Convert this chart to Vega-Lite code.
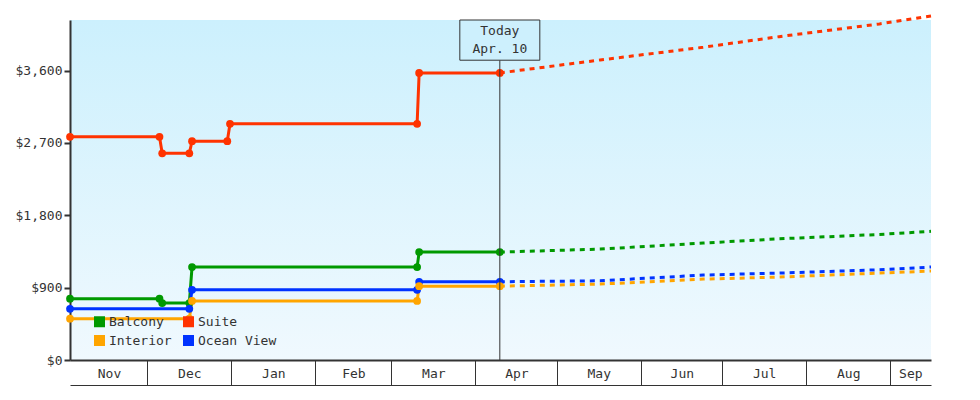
{
  "$schema": "https://vega.github.io/schema/vega-lite/v6.json",
  "width": 861,
  "height": 340,
  "autosize": "none",
  "padding": {"left": 70, "top": 20, "right": 49, "bottom": 40},
  "background": "white",
  "config": {
    "view": {
      "stroke": null,
      "fill": {"gradient": "linear", "x1": 0, "y1": 0, "x2": 0, "y2": 1, "stops": [{"offset": 0, "color": "#ccf0fd"}, {"offset": 1, "color": "#f0f9fe"}]}
    },
    "font": "DejaVu Sans Mono",
    "axis": {"labelFont": "DejaVu Sans Mono", "labelFontSize": 13, "labelColor": "#333333", "domainColor": "#333333", "tickColor": "#333333", "grid": false, "title": null},
    "axisY": {"domainWidth": 2, "tickWidth": 2, "tickSize": 6, "labelPadding": 2},
    "legend": {"symbolType": "square", "symbolSize": 121, "symbolStrokeWidth": 0, "symbolOpacity": 1,
      "labelFont": "DejaVu Sans Mono", "labelFontSize": 13, "labelColor": "#333333",
      "columnPadding": 10, "rowPadding": 5, "labelOffset": 3}
  },
  "data": {
    "values": [
      {"date": "2018-11-02T12:00:00Z", "series": "Suite", "price": 2775, "kind": "actual"},
      {"date": "2018-12-05T12:00:00Z", "series": "Suite", "price": 2775, "kind": "actual"},
      {"date": "2018-12-06T12:00:00Z", "series": "Suite", "price": 2570, "kind": "actual"},
      {"date": "2018-12-16T12:00:00Z", "series": "Suite", "price": 2570, "kind": "actual"},
      {"date": "2018-12-17T12:00:00Z", "series": "Suite", "price": 2721, "kind": "actual"},
      {"date": "2018-12-30T12:00:00Z", "series": "Suite", "price": 2721, "kind": "actual"},
      {"date": "2018-12-31T12:00:00Z", "series": "Suite", "price": 2937, "kind": "actual"},
      {"date": "2019-03-10T12:00:00Z", "series": "Suite", "price": 2937, "kind": "actual"},
      {"date": "2019-03-11T06:00:00Z", "series": "Suite", "price": 3570, "kind": "actual"},
      {"date": "2019-04-10T00:00:00Z", "series": "Suite", "price": 3570, "kind": "actual"},
      {"date": "2018-11-02T12:00:00Z", "series": "Balcony", "price": 762, "kind": "actual"},
      {"date": "2018-12-05T12:00:00Z", "series": "Balcony", "price": 762, "kind": "actual"},
      {"date": "2018-12-06T12:00:00Z", "series": "Balcony", "price": 708, "kind": "actual"},
      {"date": "2018-12-16T12:00:00Z", "series": "Balcony", "price": 708, "kind": "actual"},
      {"date": "2018-12-17T12:00:00Z", "series": "Balcony", "price": 1155, "kind": "actual"},
      {"date": "2019-03-10T12:00:00Z", "series": "Balcony", "price": 1155, "kind": "actual"},
      {"date": "2019-03-11T06:00:00Z", "series": "Balcony", "price": 1342, "kind": "actual"},
      {"date": "2019-04-10T00:00:00Z", "series": "Balcony", "price": 1342, "kind": "actual"},
      {"date": "2018-11-02T12:00:00Z", "series": "Ocean View", "price": 637, "kind": "actual"},
      {"date": "2018-12-16T12:00:00Z", "series": "Ocean View", "price": 637, "kind": "actual"},
      {"date": "2018-12-17T12:00:00Z", "series": "Ocean View", "price": 873, "kind": "actual"},
      {"date": "2019-03-10T12:00:00Z", "series": "Ocean View", "price": 873, "kind": "actual"},
      {"date": "2019-03-11T06:00:00Z", "series": "Ocean View", "price": 973, "kind": "actual"},
      {"date": "2019-04-10T00:00:00Z", "series": "Ocean View", "price": 973, "kind": "actual"},
      {"date": "2018-11-02T12:00:00Z", "series": "Interior", "price": 513, "kind": "actual"},
      {"date": "2018-12-16T12:00:00Z", "series": "Interior", "price": 513, "kind": "actual"},
      {"date": "2018-12-17T12:00:00Z", "series": "Interior", "price": 735, "kind": "actual"},
      {"date": "2019-03-10T12:00:00Z", "series": "Interior", "price": 735, "kind": "actual"},
      {"date": "2019-03-11T06:00:00Z", "series": "Interior", "price": 918, "kind": "actual"},
      {"date": "2019-04-10T00:00:00Z", "series": "Interior", "price": 918, "kind": "actual"},
      {"date": "2019-04-10T00:00:00Z", "series": "Suite", "price": 3570, "kind": "forecast"},
      {"date": "2019-05-17T00:00:00Z", "series": "Suite", "price": 3731, "kind": "forecast"},
      {"date": "2019-06-24T00:00:00Z", "series": "Suite", "price": 3889, "kind": "forecast"},
      {"date": "2019-07-22T00:00:00Z", "series": "Suite", "price": 4021, "kind": "forecast"},
      {"date": "2019-08-28T00:00:00Z", "series": "Suite", "price": 4179, "kind": "forecast"},
      {"date": "2019-09-16T00:00:00Z", "series": "Suite", "price": 4278, "kind": "forecast"},
      {"date": "2019-04-10T00:00:00Z", "series": "Balcony", "price": 1342, "kind": "forecast"},
      {"date": "2019-05-17T00:00:00Z", "series": "Balcony", "price": 1379, "kind": "forecast"},
      {"date": "2019-06-24T00:00:00Z", "series": "Balcony", "price": 1454, "kind": "forecast"},
      {"date": "2019-07-22T00:00:00Z", "series": "Balcony", "price": 1507, "kind": "forecast"},
      {"date": "2019-08-28T00:00:00Z", "series": "Balcony", "price": 1561, "kind": "forecast"},
      {"date": "2019-09-16T00:00:00Z", "series": "Balcony", "price": 1600, "kind": "forecast"},
      {"date": "2019-04-10T00:00:00Z", "series": "Ocean View", "price": 973, "kind": "forecast"},
      {"date": "2019-05-17T00:00:00Z", "series": "Ocean View", "price": 985, "kind": "forecast"},
      {"date": "2019-06-24T00:00:00Z", "series": "Ocean View", "price": 1056, "kind": "forecast"},
      {"date": "2019-07-22T00:00:00Z", "series": "Ocean View", "price": 1081, "kind": "forecast"},
      {"date": "2019-08-28T00:00:00Z", "series": "Ocean View", "price": 1122, "kind": "forecast"},
      {"date": "2019-09-16T00:00:00Z", "series": "Ocean View", "price": 1156, "kind": "forecast"},
      {"date": "2019-04-10T00:00:00Z", "series": "Interior", "price": 918, "kind": "forecast"},
      {"date": "2019-05-17T00:00:00Z", "series": "Interior", "price": 944, "kind": "forecast"},
      {"date": "2019-06-24T00:00:00Z", "series": "Interior", "price": 1006, "kind": "forecast"},
      {"date": "2019-07-22T00:00:00Z", "series": "Interior", "price": 1031, "kind": "forecast"},
      {"date": "2019-08-28T00:00:00Z", "series": "Interior", "price": 1081, "kind": "forecast"},
      {"date": "2019-09-16T00:00:00Z", "series": "Interior", "price": 1106, "kind": "forecast"}
    ]
  },
  "resolve": {"axis": {"x": "independent"}},
  "layer": [
    {
      "transform": [{"filter": "datum.kind == 'actual'"}],
      "mark": {"type": "line", "strokeWidth": 3, "clip": false},
      "encoding": {
        "x": {
          "field": "date", "type": "temporal",
          "scale": {"type": "utc", "domain": [{"year": 2018, "month": 11, "date": 2, "hours": 12, "utc": true}, {"year": 2019, "month": 9, "date": 16, "utc": true}]},
          "axis": {
            "orient": "bottom",
            "values": [
              {"year": 2018, "month": 11, "date": 2, "hours": 12, "utc": true},
              {"year": 2018, "month": 12, "date": 1, "utc": true},
              {"year": 2019, "month": 1, "date": 1, "utc": true},
              {"year": 2019, "month": 2, "date": 1, "utc": true},
              {"year": 2019, "month": 3, "date": 1, "utc": true},
              {"year": 2019, "month": 4, "date": 1, "utc": true},
              {"year": 2019, "month": 5, "date": 1, "utc": true},
              {"year": 2019, "month": 6, "date": 1, "utc": true},
              {"year": 2019, "month": 7, "date": 1, "utc": true},
              {"year": 2019, "month": 8, "date": 1, "utc": true},
              {"year": 2019, "month": 9, "date": 1, "utc": true}
            ],
            "labelExpr": "utcFormat(datum.value, '%b')",
            "tickSize": 25,
            "tickWidth": 1,
            "tickOpacity": {"condition": {"test": "utcmonth(datum.value) == 10", "value": 0}, "value": 1},
            "labelOffset": {"condition": [
              {"test": "utcmonth(datum.value) == 8", "value": 20},
              {"test": "utcmonth(datum.value) == 1", "value": 38},
              {"test": "utcmonth(datum.value) == 10", "value": 39},
              {"test": "utcmonth(datum.value) == 3 || utcmonth(datum.value) == 5", "value": 41}
            ], "value": 42},
            "labelAlign": "center",
            "labelBaseline": "middle",
            "labelPadding": -12,
            "labelFlush": false,
            "labelOverlap": false,
            "domainWidth": 2
          }
        },
        "y": {
          "field": "price", "type": "quantitative",
          "scale": {"domain": [0, 4228], "nice": false, "zero": true},
          "axis": {"values": [0, 900, 1800, 2700, 3600], "format": "$,.0f"}
        },
        "color": {"field": "series", "type": "nominal",
          "scale": {"domain": ["Balcony", "Interior", "Suite", "Ocean View"], "range": ["#009900", "#ffa500", "#ff3300", "#0033ff"]},
          "legend": {"orient": "none", "legendX": 23, "legendY": 295, "columns": 2, "title": null, "symbolType": "square", "symbolFillColor": null}}
      }
    },
    {
      "transform": [{"filter": "datum.kind == 'forecast'"}],
      "mark": {"type": "line", "strokeWidth": 3, "strokeDash": [5, 5], "clip": false},
      "encoding": {
        "x": {"field": "date", "type": "temporal", "axis": null},
        "y": {"field": "price", "type": "quantitative"},
        "color": {"field": "series", "type": "nominal"}
      }
    },
    {
      "transform": [{"filter": "datum.kind == 'actual'"}],
      "mark": {"type": "point", "filled": true, "size": 60, "opacity": 1, "shape": "circle"},
      "encoding": {
        "x": {"field": "date", "type": "temporal", "axis": null},
        "y": {"field": "price", "type": "quantitative"},
        "color": {"field": "series", "type": "nominal"}
      }
    },
    {
      "data": {"values": [{"date": "2019-04-10T00:00:00Z", "label": "Today"}]},
      "mark": {"type": "rule", "color": "#333333", "strokeWidth": 1},
      "encoding": {
        "x": {"field": "date", "type": "temporal",
          "axis": {"orient": "bottom", "offset": 25, "labels": false, "ticks": false, "domain": true, "domainWidth": 1, "domainColor": "#333333", "grid": false, "title": null}},
        "y": {"datum": 0},
        "y2": {"datum": 3728}
      }
    },
    {
      "data": {"values": [{"date": "2019-04-10T00:00:00Z", "label": "Today"}]},
      "mark": {"type": "rect", "fill": "#cdf0fd", "stroke": "#333333", "strokeWidth": 1, "xOffset": -40, "x2Offset": 40},
      "encoding": {
        "x": {"field": "date", "type": "temporal", "axis": null},
        "x2": {"field": "date"},
        "y": {"datum": 4228},
        "y2": {"datum": 3728}
      }
    },
    {
      "data": {"values": [{"date": "2019-04-10T00:00:00Z", "label": "Today"}]},
      "mark": {"type": "text", "text": ["Today", "Apr. 10"], "lineHeight": 18, "baseline": "middle", "align": "center", "font": "DejaVu Sans Mono", "fontSize": 13, "color": "#333333"},
      "encoding": {
        "x": {"field": "date", "type": "temporal", "axis": null},
        "y": {"datum": 4088}
      }
    }
  ]
}
